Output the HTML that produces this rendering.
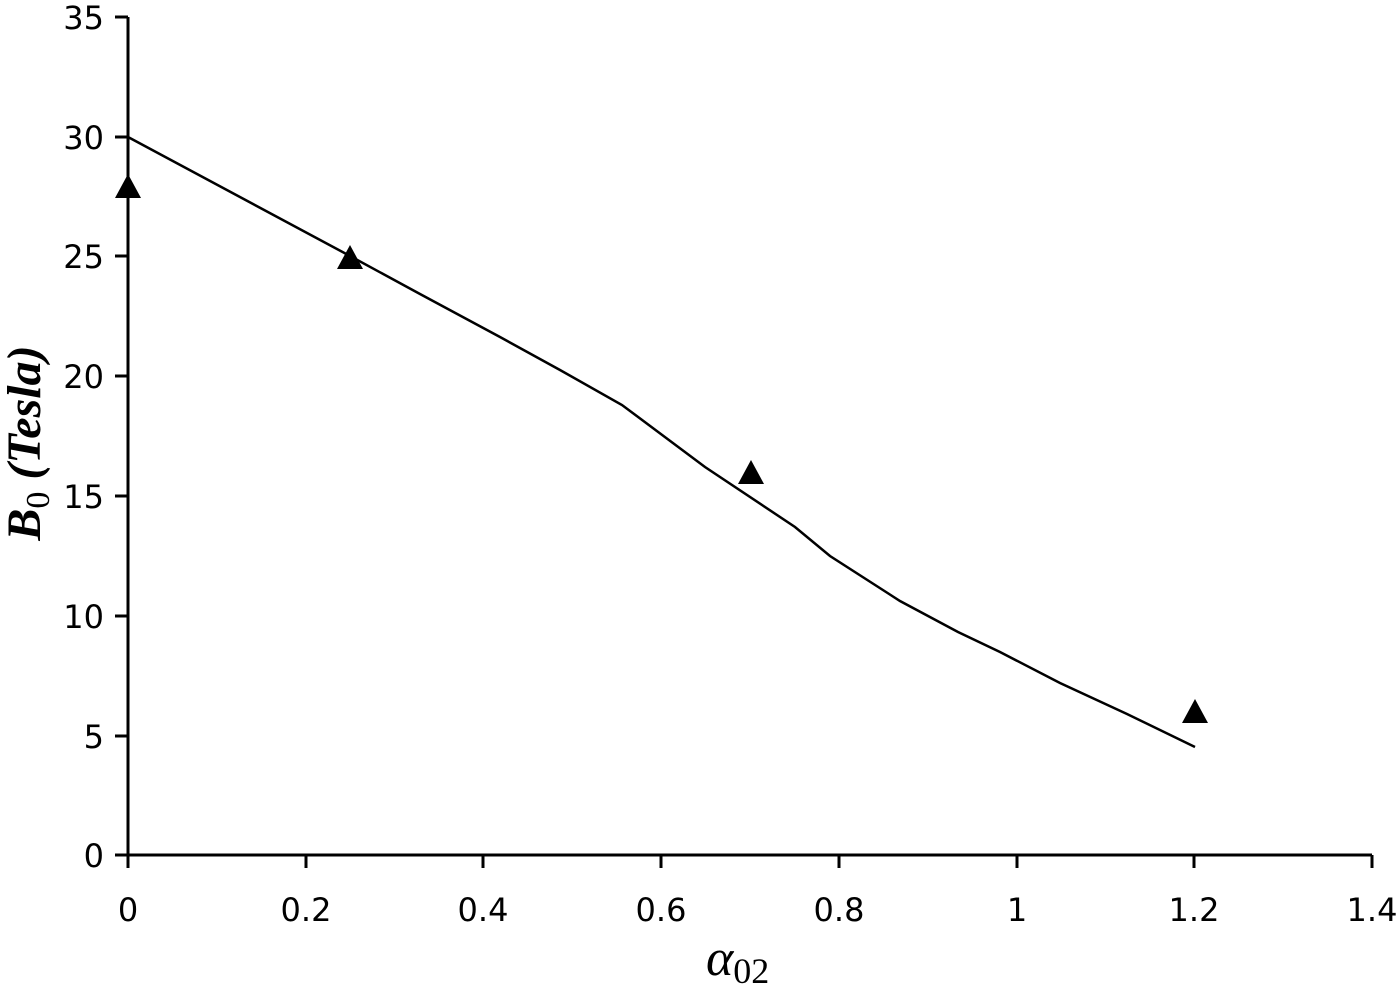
<!DOCTYPE html>
<html><head><meta charset="utf-8"><style>html,body{margin:0;padding:0;background:#fff}</style></head>
<body>
<svg width="1400" height="990" xmlns="http://www.w3.org/2000/svg" style="display:block">
<g stroke="#000" stroke-width="3" fill="none">
<line x1="128" y1="17" x2="128" y2="868"/>
<line x1="115" y1="855" x2="1372" y2="855"/>
<line x1="115" y1="17" x2="128" y2="17"/>
<line x1="115" y1="137" x2="128" y2="137"/>
<line x1="115" y1="256" x2="128" y2="256"/>
<line x1="115" y1="376" x2="128" y2="376"/>
<line x1="115" y1="496" x2="128" y2="496"/>
<line x1="115" y1="616" x2="128" y2="616"/>
<line x1="115" y1="736" x2="128" y2="736"/>
<line x1="306" y1="855" x2="306" y2="868"/>
<line x1="483" y1="855" x2="483" y2="868"/>
<line x1="661" y1="855" x2="661" y2="868"/>
<line x1="839" y1="855" x2="839" y2="868"/>
<line x1="1017" y1="855" x2="1017" y2="868"/>
<line x1="1194" y1="855" x2="1194" y2="868"/>
<line x1="1372" y1="855" x2="1372" y2="868"/>
<polyline stroke-width="2.5" points="128,137 350,256 420,294 500,337 560,370 622,405 705,467 795,527 830,556 900,601 958,632 1000,652 1060,683 1127,714 1195,747"/>
</g>
<g fill="#000">
<polygon points="128,174 141,198 115,198"/>
<polygon points="350,245 363,269 337,269"/>
<polygon points="751,460 764,484 738,484"/>
<polygon points="1195,699 1208,723 1182,723"/>
</g>
<g font-family="'DejaVu Sans','Liberation Sans',sans-serif" font-size="32" fill="#000" text-anchor="end">
<text x="104" y="29">35</text>
<text x="104" y="149">30</text>
<text x="104" y="268">25</text>
<text x="104" y="388">20</text>
<text x="104" y="508">15</text>
<text x="104" y="628">10</text>
<text x="104" y="748">5</text>
<text x="104" y="867">0</text>
</g>
<g font-family="'DejaVu Sans','Liberation Sans',sans-serif" font-size="32" fill="#000" text-anchor="middle">
<text x="128" y="921">0</text>
<text x="306" y="921">0.2</text>
<text x="483" y="921">0.4</text>
<text x="661" y="921">0.6</text>
<text x="839" y="921">0.8</text>
<text x="1017" y="921">1</text>
<text x="1194" y="921">1.2</text>
<text x="1372" y="921">1.4</text>
</g>
<text x="706" y="975" font-family="'Liberation Serif',serif" font-size="52" font-style="italic">α<tspan font-style="normal" font-size="36" dy="8">02</tspan></text>
<text transform="translate(40,443) rotate(-90)" text-anchor="middle" font-family="'Liberation Serif',serif" font-size="48" font-weight="bold" font-style="italic">B<tspan font-size="34" font-style="normal" font-weight="normal" dy="9">0</tspan><tspan dy="-9"> (Tesla)</tspan></text>
</svg>
</body></html>
